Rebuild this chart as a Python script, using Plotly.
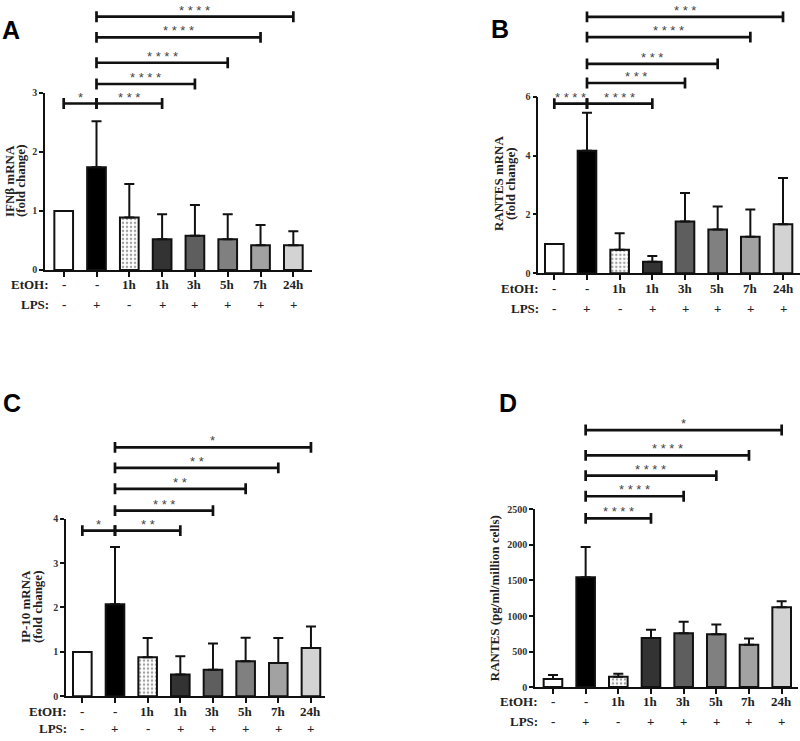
import plotly.graph_objects as go

W, H = 800, 741

# ---------------- data ----------------
etoh_labels = ["-", "-", "1h", "1h", "3h", "5h", "7h", "24h"]
lps_labels = ["-", "+", "-", "+", "+", "+", "+", "+"]
positions = list(range(8))

a_mean = [1.0, 1.74, 0.89, 0.52, 0.58, 0.52, 0.42, 0.42]
a_sd = [None, 0.78, 0.565, 0.425, 0.52, 0.425, 0.34, 0.235]
b_mean = [1.0, 4.17, 0.80, 0.39, 1.76, 1.49, 1.24, 1.67]
b_sd = [None, 1.29, 0.56, 0.20, 0.97, 0.78, 0.93, 1.57]
c_mean = [1.0, 2.07, 0.88, 0.49, 0.60, 0.79, 0.75, 1.09]
c_sd = [None, 1.29, 0.43, 0.41, 0.59, 0.53, 0.56, 0.48]
d_mean = [115, 1545, 147, 692, 756, 742, 595, 1125]
d_sd = [55, 425, 41, 115, 162, 138, 87, 83]

# significance: (from, to, label, level)
a_sig = [(0, 1, "*", 2.82), (1, 3, "***", 2.82), (1, 4, "****", 3.15),
         (1, 5, "****", 3.51), (1, 6, "****", 3.94), (1, 7, "****", 4.29)]
b_sig = [(0, 1, "****", 5.77), (1, 3, "****", 5.77), (1, 4, "***", 6.47),
         (1, 5, "***", 7.12), (1, 6, "****", 8.03), (1, 7, "***", 8.72)]
c_sig = [(0, 1, "*", 3.73), (1, 3, "**", 3.73), (1, 4, "***", 4.18),
         (1, 5, "**", 4.67), (1, 6, "**", 5.14), (1, 7, "*", 5.60)]
d_sig = [(1, 3, "****", 2375), (1, 4, "****", 2685), (1, 5, "****", 2976),
         (1, 6, "****", 3261), (1, 7, "*", 3617)]

a_title = ["IFNβ mRNA", "(fold change)"]
b_title = ["RANTES mRNA", "(fold change)"]
c_title = ["IP-10 mRNA", "(fold change)"]
d_title = ["RANTES (pg/ml/million cells)"]

a_ticks = [0, 1, 2, 3]
b_ticks = [0, 2, 4, 6]
c_ticks = [0, 1, 2, 3, 4]
d_ticks = [0, 500, 1000, 1500, 2000, 2500]

# ---------------- style / layout ----------------
bar_colors = ["white", "black", "white", "#333333", "#5e5e5e", "#808080", "#a2a2a2", "#d3d3d3"]
bar_patterns = ["", "", ".", "", "", "", "", ""]

SERIF = "Liberation Serif"
SANS = "Liberation Sans"

panels = [
    dict(letter="A", mean=a_mean, sd=a_sd, sig=a_sig, title=a_title, ticks=a_ticks,
         xl=45, xr=311.7, xrange=[-0.57, 7.56], zero=268.3, atop=88.3, btop=0,
         title_x=[9, 20], title_y=178, letter_xy=(11, 24), row_y=(283, 303)),
    dict(letter="B", mean=b_mean, sd=b_sd, sig=b_sig, title=b_title, ticks=b_ticks,
         xl=538.3, xr=800, xrange=[-0.49, 7.52], zero=271.7, atop=92.3, btop=0,
         title_x=[498, 510], title_y=180, letter_xy=(500, 23), row_y=(287, 307)),
    dict(letter="C", mean=c_mean, sd=c_sd, sig=c_sig, title=c_title, ticks=c_ticks,
         xl=66, xr=325, xrange=[-0.5, 7.43], zero=701.7, atop=521, btop=410,
         title_x=[25, 37], title_y=611, letter_xy=(12, 404), row_y=(717, 734)),
    dict(letter="D", mean=d_mean, sd=d_sd, sig=d_sig, title=d_title, ticks=d_ticks,
         xl=535, xr=798, xrange=[-0.55, 7.5], zero=692.3, atop=511.7, btop=410,
         title_x=[494], title_y=602, letter_xy=(508, 404), row_y=(707, 727)),
]

fig = go.Figure()
annotations = []
layout = dict(width=W, height=H, margin=dict(l=0, r=0, t=0, b=0),
              plot_bgcolor="rgba(0,0,0,0)", paper_bgcolor="white", showlegend=False)

for k, p in enumerate(panels):
    n = k + 1
    xa = "x" if n == 1 else f"x{n}"
    ya = "y" if n == 1 else f"y{n}"
    yb_n = n + 4
    yb = f"y{yb_n}"
    axis_max = p["ticks"][-1]
    unit = (p["zero"] - p["atop"]) / axis_max          # px per data unit
    brange = (p["zero"] - p["btop"]) / unit

    layout[f"xaxis{'' if n == 1 else n}"] = dict(
        domain=[p["xl"] / W, p["xr"] / W], range=p["xrange"], anchor=ya,
        showline=True, linewidth=2, linecolor="#111", ticks="outside", ticklen=5,
        tickwidth=1.5, tickcolor="#111", tickvals=positions, showticklabels=False,
        showgrid=False, zeroline=False, fixedrange=True)
    layout[f"yaxis{'' if n == 1 else n}"] = dict(
        domain=[1 - p["zero"] / H, 1 - p["atop"] / H], range=[0, axis_max], anchor=xa,
        showline=True, linewidth=1.5, linecolor="#111", ticks="outside", ticklen=4,
        tickwidth=1.5, tickcolor="#111", tickvals=p["ticks"], tickformat="d",
        tickfont=dict(family=SERIF, size=10, color="#333", weight="bold"),
        showgrid=False, zeroline=False, fixedrange=True)
    layout[f"yaxis{yb_n}"] = dict(
        domain=[1 - p["zero"] / H, 1 - p["btop"] / H], range=[0, brange], anchor=xa,
        visible=False, showgrid=False, zeroline=False, fixedrange=True)

    fig.add_trace(go.Bar(
        x=positions, y=p["mean"], width=0.57, xaxis=xa, yaxis=ya,
        marker=dict(color=bar_colors, line=dict(color="#111", width=2),
                    pattern=dict(shape=bar_patterns, fgcolor="#777", bgcolor="white",
                                 size=4, solidity=0.3, fillmode="overlay")),
        error_y=dict(type="data", symmetric=False, array=p["sd"],
                     arrayminus=[0] * 8, color="#111", thickness=2, width=5),
        hoverinfo="skip"))

    # significance brackets
    cap = 5.5 / unit
    bx, by = [], []
    for (x0, x1, lab, lvl) in p["sig"]:
        bx += [x0, x0, x0, x1, x1, x1, None]
        by += [lvl - cap, lvl + cap, lvl, lvl, lvl + cap, lvl - cap, None]
        annotations.append(dict(
            x=(x0 + x1) / 2, y=lvl, xref=xa, yref=yb, text=" ".join(lab),
            showarrow=False, yanchor="bottom", yshift=-3,
            font=dict(family=SANS, size=13, color="#444")))
    fig.add_trace(go.Scatter(x=bx, y=by, mode="lines", xaxis=xa, yaxis=yb,
                             line=dict(color="#111", width=2.7), hoverinfo="skip"))

    # category rows
    for i in positions:
        for row_txt, ry in ((etoh_labels[i], p["row_y"][0]), (lps_labels[i], p["row_y"][1])):
            annotations.append(dict(
                x=i, xref=xa, y=1 - ry / H, yref="paper", text=row_txt, showarrow=False,
                yanchor="middle", font=dict(family=SERIF, size=13, color="#222", weight="bold")))
    for row_name, ry in (("EtOH:", p["row_y"][0]), ("LPS:", p["row_y"][1])):
        annotations.append(dict(
            x=0, xref=xa, y=1 - ry / H, yref="paper", text=row_name, showarrow=False,
            xanchor="right", xshift=-13, yanchor="middle",
            font=dict(family=SERIF, size=13, color="#222", weight="bold")))

    # y titles
    for tx, t in zip(p["title_x"], p["title"]):
        annotations.append(dict(
            x=tx / W, y=1 - p["title_y"] / H, xref="paper", yref="paper", text=t,
            textangle=-90, showarrow=False, xanchor="center", yanchor="middle",
            font=dict(family=SERIF, size=13, color="#222", weight="bold")))

    # panel letter
    lx, ly = p["letter_xy"]
    annotations.append(dict(
        x=lx / W, y=1 - ly / H, xref="paper", yref="paper", text=p["letter"],
        showarrow=False, xanchor="center", yanchor="middle",
        font=dict(family=SANS, size=25, color="black", weight="bold")))

layout["annotations"] = annotations
fig.update_layout(**layout)
fig.write_html("out.html", config={"displayModeBar": False},
               post_script="document.body.style.margin='0';document.body.style.overflow='hidden';")
